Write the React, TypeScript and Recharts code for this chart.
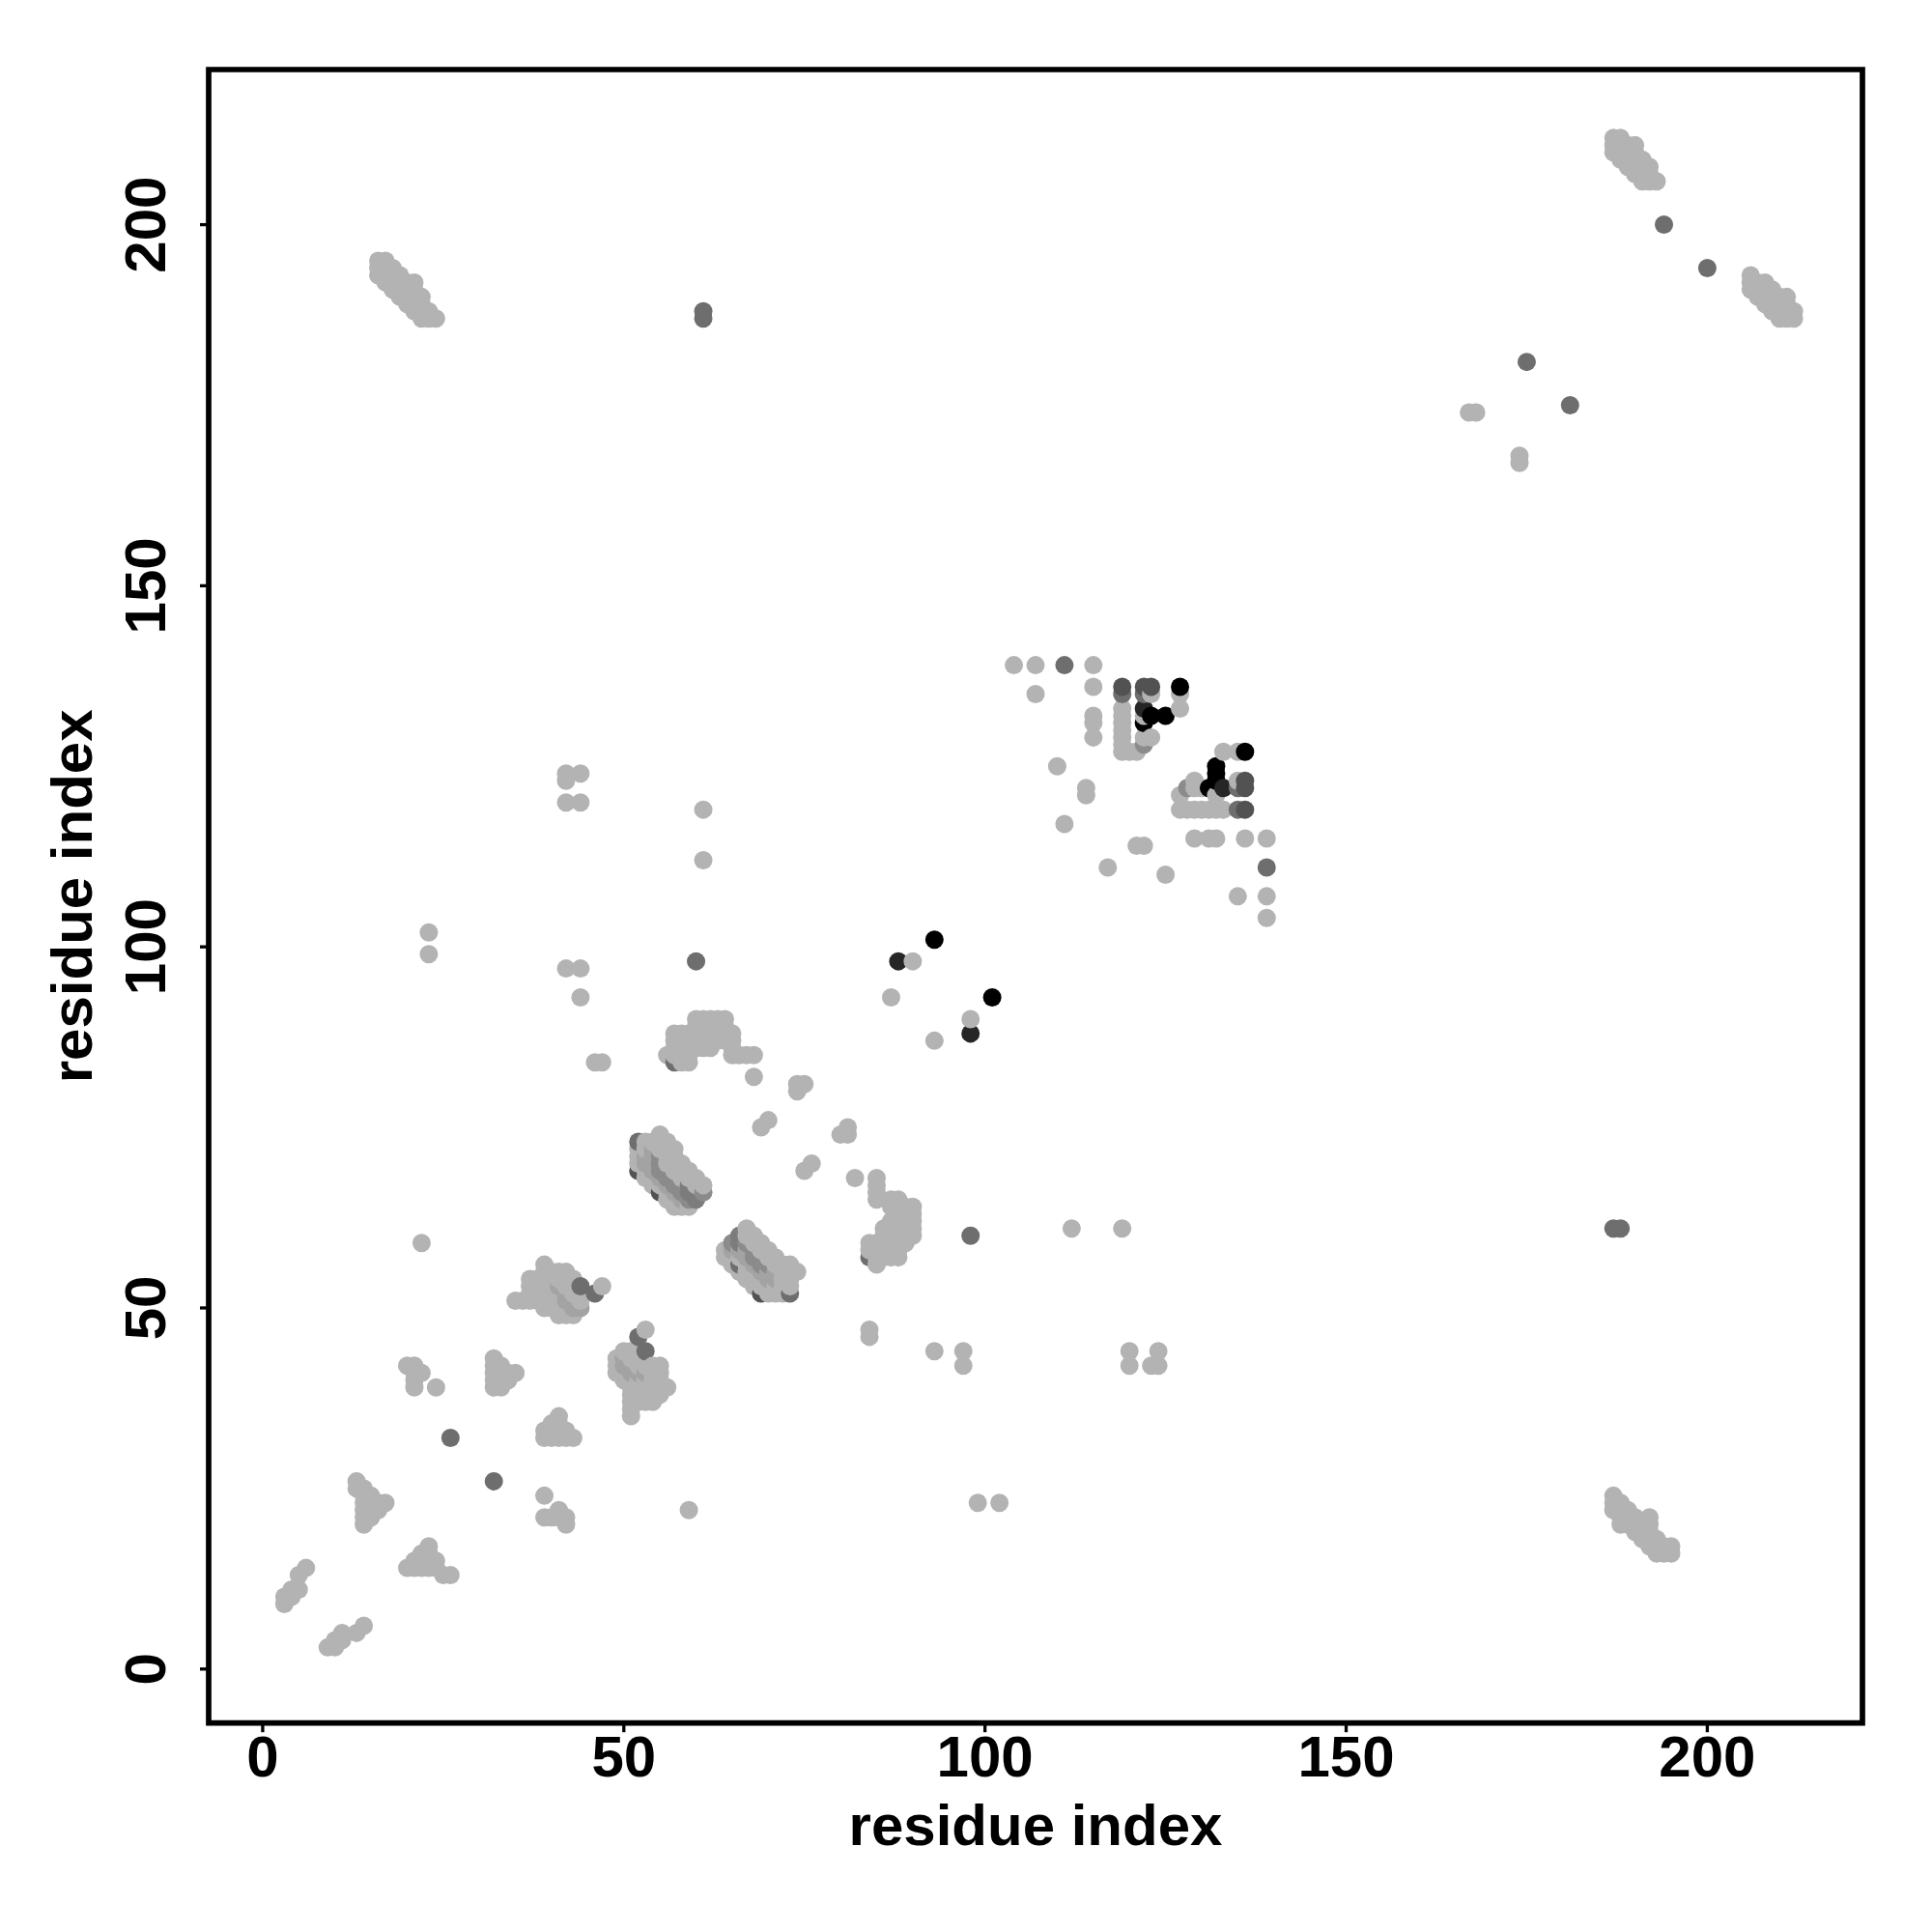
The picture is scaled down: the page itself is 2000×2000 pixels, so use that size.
import { ScatterChart, Scatter, XAxis, YAxis, ReferenceArea } from 'recharts'

type Row = [number, number[]]
type Pair = [number, number]

// every row is [y, x values]
const cornerA: Row[] = [[14, [6]], [13, [5]], [11, [4, 5]], [10, [3, 4]], [9, [3]]]
const cornerB: Row[] = [[6, [14]], [5, [11, 13]], [4, [10, 11]], [3, [9, 10]]]
const triA: Row[] = [[17, [23]], [16, [22, 23]], [15, [21, 22, 23, 24]], [14, [20, 21, 22, 23, 24]], [13, [25, 26]]]
const triB: Row[] = [[26, [13]], [25, [13, 14]], [24, [14, 15]], [23, [14, 15, 16, 17]], [22, [14, 15, 16]], [21, [14, 15]], [20, [14]]]
const triC: Row[] = [[42, [20, 21]], [41, [21, 22]], [40, [21]], [39, [21, 24]]]
const triD: Row[] = [[24, [39]], [22, [41]], [21, [39, 40, 41, 42]], [20, [42]]]
const blockE: Row[] = [[43, [32]], [42, [32, 33]], [41, [32, 33, 34, 35]], [40, [32, 33, 34]], [39, [32, 33]]]
const blockF: Row[] = [[35, [41]], [34, [40, 41]], [33, [39, 40, 41, 42]], [32, [39, 40, 41, 42, 43]]]
const blockG: Row[] = [
  [56, [39]],
  [55, [39, 40, 41, 42]],
  [54, [37, 38, 39, 40, 41, 42, 43]],
  [53, [37, 38, 39, 40, 41, 42, 43, 47]],
  [52, [37, 38, 39, 40, 41, 42, 43, 44]],
  [51, [35, 36, 37, 38, 39, 40, 41, 42, 43, 44]],
  [50, [39, 40, 41, 42, 43, 44]],
  [49, [41, 42, 43]],
]
const blockH: Row[] = [
  [47, [53]],
  [44, [50, 51]],
  [43, [49, 50, 51, 52]],
  [42, [49, 50, 51, 52, 53, 54, 55]],
  [41, [49, 50, 51, 52, 53, 54, 55]],
  [40, [50, 51, 52, 53, 54, 55]],
  [39, [51, 52, 53, 54, 55, 56]],
  [38, [51, 52, 53, 54, 55]],
  [37, [51, 52, 53, 54]],
  [36, [51]],
  [35, [51]],
]
const cloudTop: Row[] = [
  [90, [60, 61, 62, 63, 64]],
  [89, [60, 61, 62, 63, 64]],
  [88, [57, 58, 59, 60, 61, 62, 63, 64, 65]],
  [87, [57, 58, 59, 60, 61, 62, 63, 64, 65]],
  [86, [57, 58, 59, 60, 61, 62, 65]],
  [85, [56, 57, 58, 59, 65, 66, 67, 68]],
  [84, [58, 59]],
]
const strandA: Row[] = [
  [74, [55]],
  [73, [53, 54, 55, 56]],
  [72, [52, 53, 54, 55, 56, 57]],
  [71, [52, 53, 54, 55, 56, 57]],
  [70, [52, 53, 54, 55, 56, 57, 58]],
  [69, [53, 54, 55, 56, 57, 58, 59]],
  [68, [53, 54, 55, 56, 57, 58, 59, 60]],
  [67, [54, 55, 56, 57, 58, 59, 60, 61]],
  [66, [56, 57, 58, 59, 60, 61]],
  [65, [56, 57, 58, 59, 60]],
  [64, [57, 58, 59]],
]
const strandB: Row[] = [
  [61, [67]],
  [60, [67, 68]],
  [59, [66, 67, 68, 69]],
  [58, [64, 65, 66, 67, 68, 69, 70]],
  [57, [64, 65, 66, 67, 68, 69, 70, 71]],
  [56, [65, 67, 68, 69, 70, 71, 72, 73]],
  [55, [66, 67, 68, 69, 70, 71, 72, 73, 74]],
  [54, [67, 68, 69, 70, 71, 72, 73]],
  [53, [68, 69, 70, 71, 72, 73]],
  [52, [70, 71, 72]],
]
const cloudRight: Row[] = [
  [68, [85]],
  [67, [85]],
  [66, [85]],
  [65, [85, 87, 88]],
  [64, [87, 88, 89, 90]],
  [63, [88, 89, 90]],
  [62, [87, 88, 89, 90]],
  [61, [86, 87, 88, 89, 90]],
  [60, [86, 87, 88, 89, 90]],
  [59, [84, 85, 86, 87, 88, 89]],
  [58, [84, 85, 86, 87, 88]],
  [57, [85, 86, 87, 88]],
  [56, [85]],
]
const sparseLow: Row[] = [
  [124, [42, 44]],
  [123, [42]],
  [120, [42, 44]],
  [119, [61]],
  [112, [61]],
  [102, [23]],
  [99, [23]],
  [98, [90]],
  [97, [42, 44]],
  [93, [44, 87]],
  [90, [98]],
  [87, [93]],
  [84, [46, 47]],
  [82, [68]],
  [81, [74, 75]],
  [80, [74]],
  [76, [70]],
  [75, [69, 81]],
  [74, [80, 81]],
  [70, [76]],
  [69, [75]],
  [68, [82]],
  [61, [112, 119]],
  [59, [22]],
  [47, [84]],
  [46, [84]],
  [44, [93, 97, 120, 124]],
  [42, [97, 120, 123, 124]],
  [23, [99, 102]],
  [22, [59]],
]
const coreUpper: Row[] = [
  [139, [104, 107, 115]],
  [136, [115]],
  [135, [107, 123, 127]],
  [133, [119, 127]],
  [132, [115, 119, 122]],
  [131, [115, 119]],
  [130, [119]],
  [129, [115, 119, 122, 123]],
  [128, [119]],
  [127, [119, 120, 121, 133, 135]],
]
const coreLower: Row[] = [
  [125, [110]],
  [123, [129, 135]],
  [122, [114, 129, 130]],
  [121, [114, 127, 132]],
  [119, [127, 128, 129, 130, 131, 132, 133]],
  [117, [111]],
  [115, [129, 131, 132, 136, 139]],
  [114, [121, 122]],
  [111, [117]],
  [110, [125]],
  [107, [135, 139]],
  [104, [139]],
]
const armTopLeft: Row[] = [
  [195, [16, 17]],
  [194, [16, 17, 18]],
  [193, [16, 17, 18, 19]],
  [192, [17, 18, 19, 20, 21]],
  [191, [18, 19, 20, 21]],
  [190, [19, 20, 21, 22]],
  [189, [20, 21, 22]],
  [188, [21, 22, 23]],
  [187, [22, 23, 24]],
]
const armBottomRight: Row[] = [
  [24, [187]],
  [23, [187, 188]],
  [22, [187, 188, 189]],
  [21, [188, 189, 190, 192]],
  [20, [188, 189, 190, 191, 192]],
  [19, [190, 191, 192]],
  [18, [191, 192, 193]],
  [17, [192, 193, 194, 195]],
  [16, [193, 194, 195]],
]
const armTopRight: Row[] = [
  [212, [187, 188]],
  [211, [187, 188, 189, 190]],
  [210, [187, 188, 189, 190]],
  [209, [188, 189, 190, 191]],
  [208, [189, 190, 191, 192]],
  [207, [190, 191, 192]],
  [206, [191, 192, 193]],
]
const armFarRight: Row[] = [
  [193, [206]],
  [192, [206, 207, 208]],
  [191, [206, 207, 208, 209]],
  [190, [207, 208, 209, 210, 211]],
  [189, [208, 209, 210, 211]],
  [188, [209, 210, 211, 212]],
  [187, [210, 211, 212]],
]
const sparseFar: Row[] = [
  [174, [167, 168]],
  [168, [174]],
  [167, [174]],
]

const lightRows = [
  cornerA, cornerB, triA, triB, triC, triD, blockE, blockF, blockG, blockH, cloudTop,
  strandA, strandB, cloudRight, sparseLow, coreUpper, coreLower, armTopLeft,
  armBottomRight, armTopRight, armFarRight, sparseFar,
]

// points that are not the plain light grey, as [x, y]
const paleGrey: Pair[] = [
  [41, 53], [42, 52], [42, 51], [43, 51], [43, 50], [44, 50], [50, 43], [50, 42], [51, 42], [51, 41], [52, 41], [53, 41],
  [53, 71], [53, 70], [54, 72], [54, 71], [54, 70], [54, 69], [55, 68], [56, 67], [57, 66], [58, 65], [65, 58], [67, 58],
  [67, 57], [69, 55], [70, 55], [70, 54], [71, 55], [71, 54], [66, 58], [68, 56],
]
const midGrey: Pair[] = [
  [55, 71], [55, 70], [55, 69], [56, 69], [56, 68], [57, 68], [57, 67], [58, 67], [58, 66], [59, 65], [61, 66],
  [65, 59], [67, 59], [68, 58], [68, 57], [69, 57], [69, 56], [70, 56], [122, 128], [128, 122],
]
const deepGrey: Pair[] = [[59, 67], [59, 66], [60, 66], [60, 65], [66, 59], [66, 60]]
const darkGrey: Pair[] = [
  [26, 32], [32, 26], [44, 53], [46, 52], [52, 46], [53, 44], [52, 73], [60, 98], [61, 187], [61, 188],
  [66, 56], [73, 52], [98, 60], [111, 139], [119, 135], [122, 135], [139, 111], [135, 122], [135, 119],
  [175, 181], [181, 175], [187, 61], [188, 61], [194, 200], [200, 194], [57, 84], [84, 57],
]
const slateGrey: Pair[] = [
  [52, 69], [55, 66], [69, 52], [119, 136], [122, 136], [123, 136], [136, 123], [136, 122], [136, 119],
]
const nearBlack: Pair[] = [[88, 98], [98, 88], [122, 133], [133, 122]]
const black: Pair[] = [
  [93, 101], [101, 93], [122, 131], [123, 132], [125, 132], [127, 136], [131, 122], [132, 123], [132, 124],
  [132, 125], [136, 127],
]

const LIGHT = '#b3b3b3'
const shades: [string, Pair[]][] = [
  ['#a3a3a3', paleGrey],
  ['#8b8b8b', midGrey],
  ['#7c7c7c', deepGrey],
  ['#6e6e6e', darkGrey],
  ['#525252', slateGrey],
  ['#262626', nearBlack],
  ['#000000', black],
]

const xTicks = [0, 50, 100, 150, 200]
const yTicks = [0, 50, 100, 150, 200]
const DOMAIN: [number, number] = [-7.48, 221.48]
const FONT = '"Liberation Sans", Arial, sans-serif'

const byKey = new Map<string, { x: number; y: number; shade: string }>()
lightRows.forEach((rows) =>
  rows.forEach(([y, xs]) =>
    xs.forEach((x) => byKey.set(`${x}:${y}`, { x, y, shade: LIGHT }))
  )
)
shades.forEach(([shade, pairs]) =>
  pairs.forEach(([x, y]) => byKey.set(`${x}:${y}`, { x, y, shade }))
)
// drawn in residue order, later points sit on top of earlier ones
const contacts = [...byKey.values()].sort((a, b) => a.x - b.x || a.y - b.y)

const Dot = (props: any) => (
  <circle cx={props.cx} cy={props.cy} r={9.5} fill={props.payload.shade} />
)

const XTick = ({ x, y, payload }: any) => (
  <text x={x} y={y + 46} textAnchor="middle" fontSize={60} fontWeight="bold" fontFamily={FONT} fill="#000">
    {payload.value}
  </text>
)

const YTick = ({ x, y, payload }: any) => (
  <text
    transform={`translate(${x - 36},${y}) rotate(-90)`}
    textAnchor="middle"
    fontSize={60}
    fontWeight="bold"
    fontFamily={FONT}
    fill="#000"
  >
    {payload.value}
  </text>
)

export default function App() {
  return (
    <div style={{ position: 'absolute', left: 0, top: 0, background: '#fff' }}>
      <ScatterChart width={2000} height={2000} margin={{ top: 72, right: 72, bottom: 0, left: 0 }}>
        <XAxis
          type="number"
          dataKey="x"
          domain={DOMAIN}
          ticks={xTicks}
          allowDataOverflow
          height={216.3}
          tickSize={9.5}
          tickMargin={0}
          axisLine={false}
          tickLine={{ stroke: '#000', strokeWidth: 3.3 }}
          tick={<XTick />}
          interval={0}
          label={{
            value: 'residue index',
            position: 'insideBottom',
            offset: 90,
            fontSize: 60,
            fontWeight: 'bold',
            fontFamily: FONT,
            fill: '#000',
          }}
        />
        <YAxis
          type="number"
          dataKey="y"
          domain={DOMAIN}
          ticks={yTicks}
          allowDataOverflow
          width={216}
          tickSize={9}
          tickMargin={0}
          axisLine={false}
          tickLine={{ stroke: '#000', strokeWidth: 3.3 }}
          tick={<YTick />}
          interval={0}
          label={{
            value: 'residue index',
            angle: -90,
            position: 'insideLeft',
            offset: 74,
            style: { textAnchor: 'middle' },
            fontSize: 60,
            fontWeight: 'bold',
            fontFamily: FONT,
            fill: '#000',
          }}
        />
        <Scatter data={contacts} isAnimationActive={false} shape={Dot} />
        <ReferenceArea
          x1={DOMAIN[0]}
          x2={DOMAIN[1]}
          y1={DOMAIN[0]}
          y2={DOMAIN[1]}
          fill="none"
          stroke="#000"
          strokeWidth={5.7}
          ifOverflow="visible"
        />
      </ScatterChart>
    </div>
  )
}
